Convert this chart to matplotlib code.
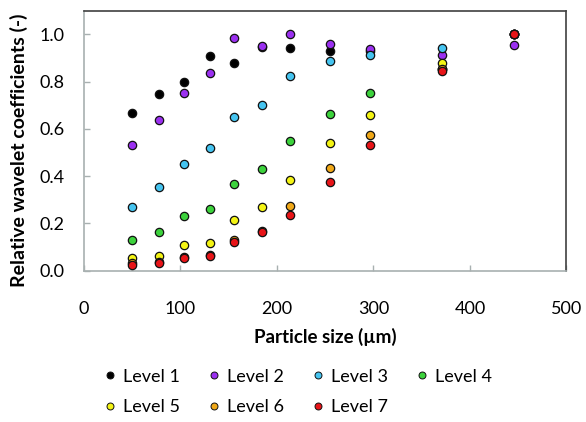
import matplotlib
matplotlib.use("Agg")
import matplotlib.pyplot as plt
from matplotlib.lines import Line2D

plt.rcParams['font.family'] = ['Lato', 'DejaVu Sans']

particle_size = [50, 77.5, 104, 130.5, 155, 184.5, 214, 254.5, 296, 371.5, 446]

level1 = [0.667, 0.749, 0.799, 0.910, 0.880, 0.945, 0.941, 0.931, 0.930, 0.853, 1.0]
level2 = [0.530, 0.638, 0.753, 0.836, 0.986, 0.950, 1.000, 0.959, 0.938, 0.914, 0.956]
level3 = [0.270, 0.354, 0.449, 0.517, 0.652, 0.702, 0.823, 0.886, 0.914, 0.944, 1.0]
level4 = [0.128, 0.161, 0.229, 0.261, 0.368, 0.431, 0.550, 0.662, 0.752, 0.853, 1.0]
level5 = [0.054, 0.063, 0.110, 0.118, 0.212, 0.270, 0.385, 0.540, 0.658, 0.877, 1.0]
level6 = [0.030, 0.038, 0.056, 0.066, 0.131, 0.168, 0.273, 0.432, 0.573, 0.853, 1.0]
level7 = [0.024, 0.031, 0.054, 0.063, 0.119, 0.162, 0.233, 0.374, 0.530, 0.843, 1.0]

series = [level1, level2, level3, level4, level5, level6, level7]
labels = ["Level 1", "Level 2", "Level 3", "Level 4", "Level 5", "Level 6", "Level 7"]
colors = ["#000000", "#9B30F0", "#45C4F0", "#3CD23C", "#F4F414", "#F0A818", "#E81418"]

x_ticks = [0, 100, 200, 300, 400, 500]
y_ticks = [0.0, 0.2, 0.4, 0.6, 0.8, 1.0]

fig = plt.figure(figsize=(5.86, 4.22), dpi=100)
ax = fig.add_axes([0.1433, 0.359, 0.8234, 0.6156])

for vals, lab, c in zip(series, labels, colors):
    ax.scatter(particle_size, vals, s=36, c=c, edgecolors="#111111", linewidths=0.9, label=lab, zorder=3)

ax.set_xlim(0, 500)
ax.set_ylim(0, 1.1)
ax.set_xticks(x_ticks)
ax.set_yticks(y_ticks)
ax.set_yticklabels([f"{v:.1f}" for v in y_ticks])
ax.tick_params(axis='both', direction='in', length=4, width=1, color='#A8B0B0', labelsize=13)
ax.tick_params(axis='x', pad=22)
ax.tick_params(axis='y', pad=14)
for s in ['left', 'bottom']:
    ax.spines[s].set_color('#A8B0B0')
    ax.spines[s].set_linewidth(1.2)
for s in ['top', 'right']:
    ax.spines[s].set_color('#404040')
    ax.spines[s].set_linewidth(1.2)

ax.set_xlabel("Particle size (µm)", fontsize=13.5, fontweight='bold', labelpad=8)
ax.set_ylabel("Relative wavelet coefficients (-)", fontsize=14, fontweight='bold')
# right edge of rotated label at ~28 px, centre at ~150 px from top
ax.yaxis.set_label_coords((28 - 84) / 482.5, (270.5 - 150) / 259.8)

# row-major legend order for a 4-column, 2-row legend
order = [0, 4, 1, 5, 2, 6, 3]
handles = [Line2D([], [], marker='o', linestyle='', markersize=5, markerfacecolor=colors[i],
                  markeredgecolor='#111111', markeredgewidth=0.7) for i in order]
fig.legend(handles, [labels[i] for i in order], loc='upper left', bbox_to_anchor=(0.145, 0.165), ncol=4,
           frameon=False, fontsize=13, handletextpad=0.2, columnspacing=1.4,
           labelspacing=0.8, handlelength=1.0)

fig.savefig("out.png", dpi=100)
